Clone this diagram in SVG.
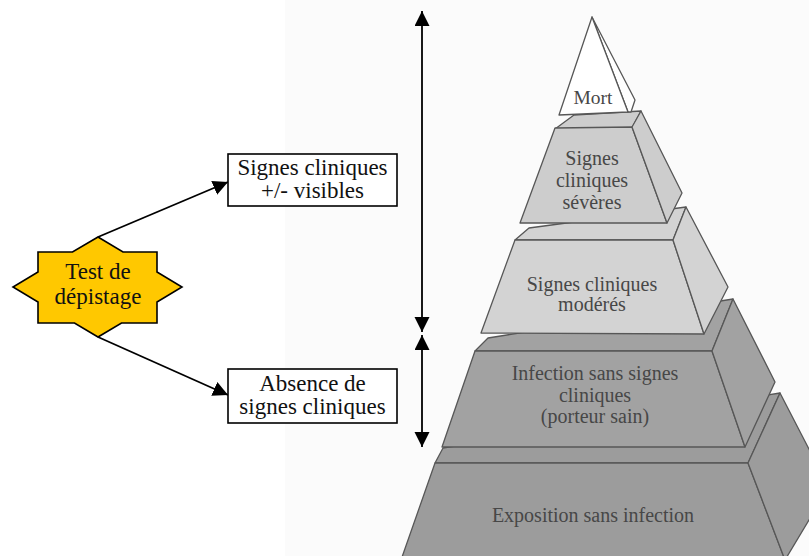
<svg xmlns="http://www.w3.org/2000/svg" width="809" height="556" viewBox="0 0 809 556">
<defs>
<marker id="ah" markerUnits="userSpaceOnUse" markerWidth="16" markerHeight="16" refX="15" refY="7.5" orient="auto-start-reverse">
<path d="M0,0 L15,7.5 L0,15 z" fill="#000"/>
</marker>
<style>
.lbl{font-family:"Liberation Serif","DejaVu Serif",serif;font-size:23px;fill:#111;text-anchor:middle}
.pl{font-family:"Liberation Serif","DejaVu Serif",serif;font-size:20px;fill:#474747;text-anchor:middle}
.face{stroke:#575757;stroke-width:1.3;stroke-linejoin:round}
.box{fill:#fff;stroke:#000;stroke-width:1.6}
.con{stroke:#000;stroke-width:1.8;fill:none}
.t1{fill:#fff}
.t2{fill:#cdcdcd}
.t3{fill:#d3d3d3}
.t4{fill:#a2a2a2}
.t5{fill:#9c9c9c}
</style>
</defs>
<rect width="809" height="556" fill="#fff"/>
<rect x="285" y="0" width="524" height="556" fill="#fbfbfb"/>

<g id="tier5">
<polygon class="face t5" points="435,463 443,448 780,393 748,463"/>
<polygon class="face t5" points="435,463 748,463 785,560 401,560"/>
<polygon class="face t5" points="748,463 780,393 812,455 812,515 785,560"/>
<text class="pl" x="593" y="522">Exposition sans infection</text>
</g>
<g id="tier4">
<polygon class="face t4" points="475,351 488,338 733,299 712,351"/>
<polygon class="face t4" points="475,351 712,351 745,447 442,447"/>
<polygon class="face t4" points="712,351 733,299 775,382 745,447"/>
<text class="pl" x="595" y="380">Infection sans signes</text>
<text class="pl" x="595" y="402">cliniques</text>
<text class="pl" x="595" y="423">(porteur sain)</text>
</g>
<g id="tier3">
<polygon class="face t3" points="515,240 529,228 686,207 673,240"/>
<polygon class="face t3" points="515,240 673,240 704,334 481,333"/>
<polygon class="face t3" points="673,240 686,207 728,287 704,334"/>
<text class="pl" x="592" y="291">Signes cliniques</text>
<text class="pl" x="592" y="311">modérés</text>
</g>
<g id="tier2">
<polygon class="face t2" points="555,129 574,115 641,111 632,128"/>
<polygon class="face t2" points="555,128 632,127 667,223 520,223"/>
<polygon class="face t2" points="632,127 641,111 682,193 667,223"/>
<text class="pl" x="592" y="165">Signes</text>
<text class="pl" x="592" y="187">cliniques</text>
<text class="pl" x="592" y="209">sévères</text>
</g>
<g id="tier1">
<polygon class="face t1" points="592,17 635,100 631,112 628,112"/>
<polygon class="face t1" points="592,17 628,112 559,115"/>
<text class="pl" x="593" y="104" style="font-size:19.5px">Mort</text>
</g>

<g id="connectors">
<line class="con" x1="98" y1="237" x2="228" y2="182" marker-end="url(#ah)"/>
<line class="con" x1="98" y1="337" x2="228" y2="395" marker-end="url(#ah)"/>
<line class="con" x1="422" y1="11" x2="422" y2="332" marker-start="url(#ah)" marker-end="url(#ah)"/>
<line class="con" x1="422" y1="335" x2="422" y2="447" marker-start="url(#ah)" marker-end="url(#ah)"/>
</g>

<g id="test">
<polygon points="98,237 123,252 157,252 157,272 182,287 157,302 157,323 121.5,323 98,337 74.5,323 38,323 38,302 13,287 38,272 38,252 72.5,252" fill="#ffc800" stroke="#000" stroke-width="1.6" stroke-linejoin="miter"/>
<text class="lbl" x="98" y="279">Test de</text>
<text class="lbl" x="98" y="304">dépistage</text>
</g>
<g id="visibles">
<rect class="box" x="228" y="154" width="169" height="52"/>
<text class="lbl" x="312.5" y="175">Signes cliniques</text>
<text class="lbl" x="312.5" y="198">+/- visibles</text>
</g>
<g id="absence">
<rect class="box" x="228" y="369" width="169" height="54"/>
<text class="lbl" x="312.5" y="391">Absence de</text>
<text class="lbl" x="312.5" y="414">signes cliniques</text>
</g>
</svg>
